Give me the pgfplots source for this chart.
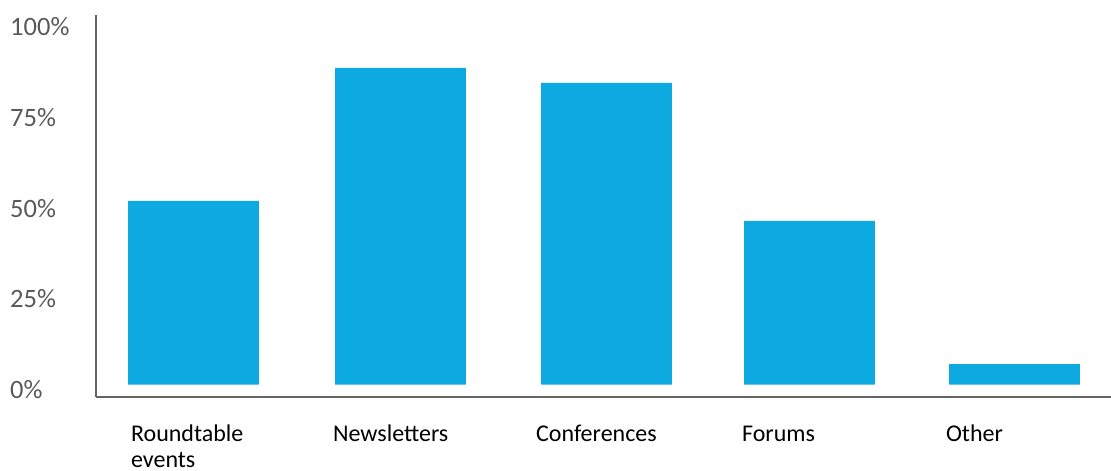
\documentclass[border=0pt]{standalone}
\usepackage{fontspec}
\setmainfont{Carlito}
\usepackage{pgfplots}
\pgfplotsset{compat=1.18}
\definecolor{barblue}{RGB}{13,169,225}
\definecolor{axgray}{RGB}{100,100,100}
\definecolor{lblgray}{RGB}{89,89,89}
\begin{document}
\begin{tikzpicture}
\useasboundingbox (-96pt,-74pt) rectangle (1015pt,397pt);
\begin{axis}[
  at={(0,0)}, anchor=south west,
  scale only axis,
  width=1015pt, height=382pt,
  xmin=0, xmax=1015,
  ymin=-3.39, ymax=102.0,
  axis x line=bottom, axis y line=left,
  axis line style={-, draw=axgray, line width=2pt},
  major tick length=0pt,
  ytick={0,25,50,75,100},
  yticklabel={\pgfmathprintnumber{\tick}\%},
  /pgf/number format/assume math mode=true,
  yticklabel style={anchor=west, inner sep=0pt, xshift=-86pt, yshift=-4.8pt,
    font=\fontsize{26.5}{30}\selectfont, text=lblgray},
  xtick=data,
  xticklabels={Roundtable\\events, \hspace*{-5pt}Newsletters, \hspace*{-8pt}Conferences, \hspace*{-5pt}\vphantom{l}Forums, \hspace*{-6pt}Other},
  xticklabel style={anchor=north west, inner sep=0pt, xshift=-62.5pt, yshift=-27.5pt,
    align=left, font=\fontsize{24}{26.5}\selectfont, text=black},
  ybar, bar width=130.7pt,
  clip=false,
]
\addplot[fill=barblue, draw=none] coordinates {
  (97.4,50.7) (304.4,87.4) (510.4,83.25) (713.4,45.2) (918.4,5.7)
};
\end{axis}
\end{tikzpicture}
\end{document}
